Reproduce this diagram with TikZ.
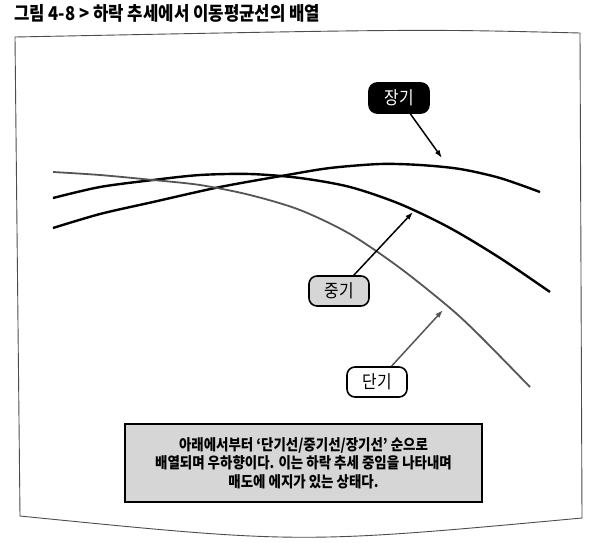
\documentclass[tikz,border=0pt]{standalone}
\usepackage{fontspec}
\newfontfamily\kr{Noto Sans CJK KR}[FakeStretch=0.88]
\usetikzlibrary{arrows.meta}

\definecolor{shortgray}{HTML}{555555}
\definecolor{boxgray}{HTML}{D6D6D6}

\begin{document}
\begin{tikzpicture}[x=1pt,y=-1pt]

        \useasboundingbox (0,0) rectangle (600,542);
        \fill[white] (0,0) rectangle (600,542);

        \node[anchor=west,inner sep=0pt,font=\kr\bfseries\fontsize{19}{20}\selectfont] (title) at (14,13) {그림 4-8 > 하락 추세에서 이동평균선의 배열};

        \draw[black!70,line width=0.9pt] (15,37) .. controls (420,29) .. (580,33) -- (582,518) .. controls (300,544) .. (20,516) -- cycle;

        \draw[line width=2.4pt] plot[smooth] coordinates {(53,228) (100,214) (153,202) (220,187) (287,175) (330,168) (380,164) (420,165) (460,169) (500,178) (540,192)};
        \draw[line width=2.4pt] plot[smooth] coordinates {(53,198) (100,187) (153,180) (200,175) (250,174) (300,178) (350,187) (400,204) (450,228) (500,258) (550,292)};
        \draw[shortgray,line width=1.8pt] plot[smooth] coordinates {(53,172) (100,175) (153,180) (200,185) (250,195) (300,210) (350,234) (400,268) (450,308) (480,336) (530,387)};

        \coordinate (longtip)  at (442,158);
        \coordinate (midtip)   at (413,212);
        \coordinate (shorttip) at (443,310);

        \begin{scope}[every node/.style={rounded corners=8pt,draw,line width=1.6pt,minimum width=60pt,minimum height=30pt,font=\kr\fontsize{18}{18}\selectfont}]
          \node[fill=black,text=white] (long)  at (399,98)  {장기};
          \node[fill=boxgray]          (mid)   at (339,291) {중기};
          \node[fill=white]            (short) at (377,382) {단기};
        \end{scope}

        \begin{scope}[every edge/.style={draw,-{Latex[length=8pt,width=5.5pt]},line width=1.5pt}]
          \path (long)  edge (longtip);
          \path (mid)   edge (midtip);
          \path (short) edge[shortgray] (shorttip);
        \end{scope}

        \node[draw,line width=2.2pt,fill=boxgray,minimum width=357pt,minimum height=78pt,align=center,font=\kr\bfseries\fontsize{15.3}{18.5}\selectfont] (note) at (303.5,463) {아래에서부터 ‘단기선/중기선/장기선’ 순으로\\배열되며 우하향이다. 이는 하락 추세 중임을 나타내며\\매도에 에지가 있는 상태다.};

      \end{tikzpicture}
\end{document}
